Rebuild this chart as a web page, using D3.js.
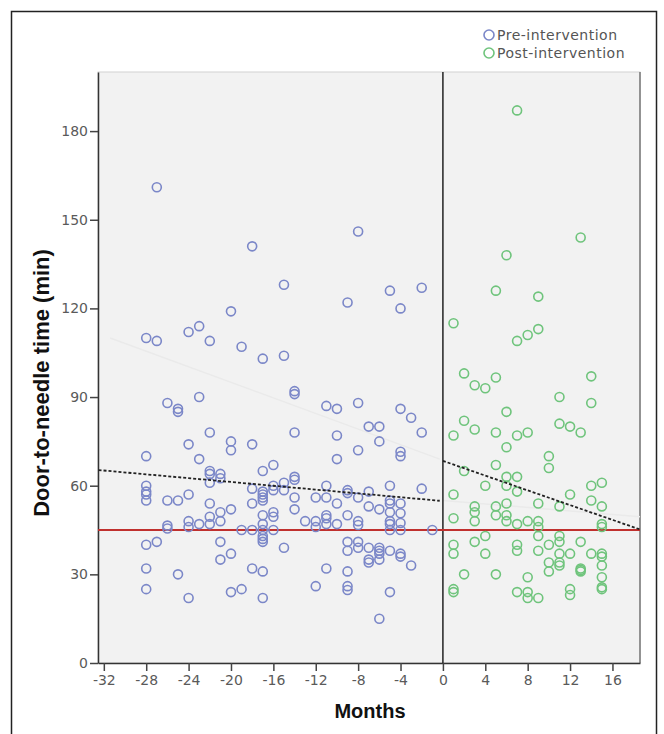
<!DOCTYPE html>
<html>
<head>
<meta charset="utf-8">
<script src="https://cdn.jsdelivr.net/npm/d3@7"></script>
<style>
  body { margin: 0; background: #fff; }
  svg { display: block; }
</style>
</head>
<body>
<svg id="chart" width="664" height="734"></svg>
<script>
// Door-to-needle time (min) by month: [month, minutes]
const pre = [
  [-28, 110], [-28, 70], [-28, 60], [-28, 58], [-28, 57], [-28, 55], [-28, 40], [-28, 32], [-28, 25],
  [-27, 161], [-27, 109], [-27, 41],
  [-26, 88], [-26, 55], [-26, 46.5], [-26, 45.5],
  [-25, 86], [-25, 85], [-25, 55], [-25, 30],
  [-24, 112], [-24, 74], [-24, 57], [-24, 48], [-24, 46], [-24, 22],
  [-23, 114], [-23, 90], [-23, 69], [-23, 47],
  [-22, 109], [-22, 78], [-22, 65], [-22, 64], [-22, 61], [-22, 54], [-22, 49.5], [-22, 47],
  [-21, 64], [-21, 62.5], [-21, 51], [-21, 48], [-21, 41], [-21, 35],
  [-20, 119], [-20, 75], [-20, 72], [-20, 52], [-20, 37], [-20, 24],
  [-19, 107], [-19, 45], [-19, 25],
  [-18, 141], [-18, 74], [-18, 59], [-18, 54], [-18, 45], [-18, 32],
  [-17, 103], [-17, 65], [-17, 58], [-17, 57], [-17, 56], [-17, 55], [-17, 50], [-17, 47], [-17, 45],
  [-17, 43], [-17, 42], [-17, 41], [-17, 31], [-17, 22],
  [-16, 67], [-16, 60], [-16, 58.5], [-16, 51], [-16, 49.5], [-16, 45],
  [-15, 128], [-15, 104], [-15, 61], [-15, 58.5], [-15, 39],
  [-14, 92], [-14, 91], [-14, 78], [-14, 63], [-14, 62], [-14, 56], [-14, 52],
  [-13, 48],
  [-12, 56], [-12, 48], [-12, 46], [-12, 26],
  [-11, 87], [-11, 60], [-11, 56], [-11, 50], [-11, 49], [-11, 47], [-11, 32],
  [-10, 86], [-10, 77], [-10, 69], [-10, 54], [-10, 47],
  [-9, 122], [-9, 58.5], [-9, 57.5], [-9, 50], [-9, 41], [-9, 38], [-9, 31], [-9, 26], [-9, 24.7],
  [-8, 146], [-8, 88], [-8, 72], [-8, 56], [-8, 48], [-8, 46.7], [-8, 41], [-8, 39],
  [-7, 80], [-7, 58], [-7, 53], [-7, 39], [-7, 35], [-7, 34],
  [-6, 80], [-6, 75], [-6, 52], [-6, 39], [-6, 38], [-6, 37], [-6, 35], [-6, 15],
  [-5, 126], [-5, 60], [-5, 55], [-5, 54], [-5, 51], [-5, 48], [-5, 47], [-5, 45], [-5, 38], [-5, 24],
  [-4, 120], [-4, 86], [-4, 71.5], [-4, 70], [-4, 54], [-4, 50.7], [-4, 47.4], [-4, 45], [-4, 37], [-4, 36],
  [-3, 83], [-3, 33],
  [-2, 127], [-2, 78], [-2, 59],
  [-1, 45]
];

const post = [
  [1, 115], [1, 77], [1, 57], [1, 49], [1, 40], [1, 37], [1, 25], [1, 24],
  [2, 98], [2, 82], [2, 65], [2, 30],
  [3, 94], [3, 79], [3, 53], [3, 51], [3, 48], [3, 41],
  [4, 93], [4, 60], [4, 43], [4, 37],
  [5, 126], [5, 96.6], [5, 78], [5, 67], [5, 53], [5, 50], [5, 30],
  [6, 138], [6, 85], [6, 73], [6, 63], [6, 60], [6, 54], [6, 50], [6, 48],
  [7, 187], [7, 109], [7, 77], [7, 63], [7, 58], [7, 47], [7, 40], [7, 38], [7, 24],
  [8, 111], [8, 78], [8, 48], [8, 29], [8, 24], [8, 22],
  [9, 124], [9, 113], [9, 54], [9, 48], [9, 46], [9, 43], [9, 38], [9, 22],
  [10, 70], [10, 66], [10, 40], [10, 34], [10, 31],
  [11, 90], [11, 81], [11, 53], [11, 43], [11, 41], [11, 37], [11, 34], [11, 33],
  [12, 80], [12, 57], [12, 37], [12, 25], [12, 23],
  [13, 144], [13, 78], [13, 41], [13, 32], [13, 31.5], [13, 31],
  [14, 97], [14, 88], [14, 60], [14, 55], [14, 37],
  [15, 61], [15, 53], [15, 47], [15, 46], [15, 37], [15, 36], [15, 33], [15, 29], [15, 25.6], [15, 25]
];

// fitted lines, [month, minutes] end points
const preFit = [[-32.5, 65.3], [-0.3, 54.9]];
const postFit = [[0, 68.4], [18.6, 45.2]];
// faint grey lines behind the points
const preFaint = [[-31.4, 110], [-0.3, 69]];
const postFaint = [[0, 55], [18.6, 49.5]];

const target = 45; // red reference line
const xTicks = [-32, -28, -24, -20, -16, -12, -8, -4, 0, 4, 8, 12, 16];
const yTicks = [0, 30, 60, 90, 120, 150, 180];
const legendLabels = ['Pre-intervention', 'Post-intervention'];

const blue = '#7b87c8';
const green = '#6fc47c';

const svg = d3.select('#chart');
const plotLeft = 98, plotRight = 640, plotTop = 72, plotBottom = 663;

const x = d3.scaleLinear().domain([-32.55, 18.6]).range([plotLeft, plotRight]);
const y = d3.scaleLinear().domain([0, 200]).range([plotBottom, plotTop]);

// outer frame
svg.append('rect')
  .attr('x', 11.5).attr('y', 11.5)
  .attr('width', 645).attr('height', 740)
  .attr('fill', 'none').attr('stroke', '#222').attr('stroke-width', 1.5);

// plot background
svg.append('rect')
  .attr('x', plotLeft).attr('y', plotTop)
  .attr('width', plotRight - plotLeft).attr('height', plotBottom - plotTop)
  .attr('fill', '#f2f2f2')
  .attr('stroke', '#d2d2d2').attr('stroke-width', 1);

svg.append('line')
  .attr('x1', plotRight).attr('x2', plotRight).attr('y1', plotTop).attr('y2', plotBottom)
  .attr('stroke', '#777').attr('stroke-width', 1.5);

const line = d3.line().x(d => x(d[0])).y(d => y(d[1]));

// faint lines
[preFaint, postFaint].forEach(seg => {
  svg.append('path').attr('d', line(seg))
    .attr('fill', 'none').attr('stroke', '#eaeaea').attr('stroke-width', 1.5);
});

// axes
const yAxis = svg.append('g')
  .attr('transform', `translate(${plotLeft},0)`)
  .call(d3.axisLeft(y).tickValues(yTicks).tickSize(8).tickPadding(2).tickSizeOuter(0));
const xAxis = svg.append('g')
  .attr('transform', `translate(0,${plotBottom})`)
  .call(d3.axisBottom(x).tickValues(xTicks).tickSize(8).tickPadding(4).tickSizeOuter(0)
    .tickFormat(d => d < 0 ? '-' + Math.abs(d) : d));

[xAxis, yAxis].forEach(g => {
  g.select('.domain').attr('stroke', '#333').attr('stroke-width', 1.5);
  g.selectAll('.tick line').attr('stroke', '#444').attr('stroke-width', 1.5);
  g.selectAll('.tick text')
    .attr('fill', '#5a5a5a')
    .style('font-family', 'DejaVu Sans, sans-serif')
    .style('font-size', '14px');
});

// reference lines
svg.append('line')
  .attr('x1', x(0)).attr('x2', x(0)).attr('y1', plotTop).attr('y2', plotBottom)
  .attr('stroke', '#222').attr('stroke-width', 1.5);

svg.append('line')
  .attr('x1', plotLeft).attr('x2', plotRight).attr('y1', y(target)).attr('y2', y(target))
  .attr('stroke', '#c0302e').attr('stroke-width', 2);

// points
function drawPoints(data, color) {
  svg.append('g')
    .selectAll('circle')
    .data(data)
    .join('circle')
    .attr('cx', d => x(d[0]))
    .attr('cy', d => y(d[1]))
    .attr('r', 4.5)
    .attr('fill', 'none')
    .attr('stroke', color)
    .attr('stroke-width', 1.6);
}
drawPoints(pre, blue);
drawPoints(post, green);

// fitted dashed lines
[preFit, postFit].forEach(seg => {
  svg.append('path').attr('d', line(seg))
    .attr('fill', 'none').attr('stroke', '#222')
    .attr('stroke-width', 1.8).attr('stroke-dasharray', '3,2');
});

// axis titles
svg.append('text')
  .attr('x', 370).attr('y', 718)
  .attr('text-anchor', 'middle')
  .style('font-family', 'Liberation Sans, Arial, sans-serif')
  .style('font-weight', 'bold').style('font-size', '20px')
  .attr('fill', '#111')
  .text('Months');

svg.append('text')
  .attr('transform', 'translate(49,383) rotate(-90)')
  .attr('text-anchor', 'middle')
  .style('font-family', 'Liberation Sans, Arial, sans-serif')
  .style('font-weight', 'bold').style('font-size', '22px')
  .attr('fill', '#111')
  .text('Door-to-needle time (min)');

// legend
const legend = svg.append('g').attr('transform', 'translate(489,35)');
legendLabels.forEach((label, i) => {
  const g = legend.append('g').attr('transform', `translate(0,${i * 18})`);
  g.append('circle').attr('r', 5)
    .attr('fill', 'none').attr('stroke', i === 0 ? blue : green).attr('stroke-width', 1.6);
  g.append('text').attr('x', 8).attr('y', 5)
    .style('font-family', 'DejaVu Sans, sans-serif').style('font-size', '14px')
    .style('letter-spacing', '0.5px')
    .attr('fill', '#555')
    .text(label);
});
</script>
</body>
</html>
